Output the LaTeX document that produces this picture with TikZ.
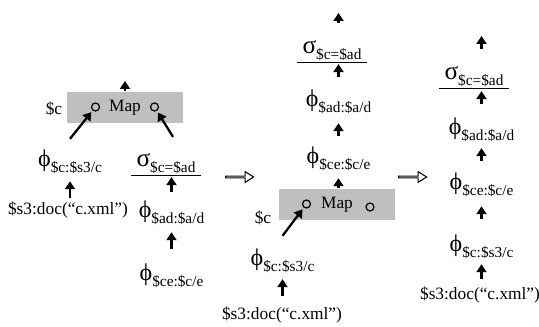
\documentclass[tikz,border=0pt]{standalone}
\usepackage{fontspec}
\setmainfont{Liberation Serif}
\usetikzlibrary{arrows.meta,shapes.arrows}
\newcommand{\lsub}[1]{\raisebox{-4.5pt}{\fontsize{11.5}{12}\selectfont #1}}
\newcommand{\phil}[1]{{\fontsize{18}{18}\selectfont ϕ}\lsub{#1}}
\newcommand{\sigl}[1]{{\fontsize{19}{19}\selectfont σ}\lsub{#1}}

\begin{document}
\begin{tikzpicture}[->,>={Triangle[width=7.5pt,length=6pt]}
	,line width=1.7pt
	,x=0.75pt,y=-0.75pt
	,font=\fontsize{13}{15}\selectfont]
  \tikzstyle{op}=[inner sep=0pt,text height=9pt,text depth=5.5pt,anchor=base]
  \tikzstyle{sel}=[inner ysep=0pt,inner xsep=3.5pt,text height=9pt,text depth=5.25pt,anchor=base]
  \tikzstyle{src}=[inner sep=0pt,text height=9pt,text depth=3pt,anchor=base]
  \tikzstyle{mapbox}=[fill=gray!50,minimum width=87pt,minimum height=23.25pt,inner sep=0pt]
  \tikzstyle{port}=[draw,circle,minimum size=6pt,inner sep=0pt,line width=0.9pt]
  \tikzstyle{rewrite}=[draw,single arrow,single arrow head extend=2.1pt
	,single arrow tip angle=64,minimum height=21pt,minimum width=8pt
	,inner sep=0pt,line width=0.8pt]

  \useasboundingbox (0,0) rectangle (539,327);

  % plan before
  \node[mapbox] (map1) at (125,107.5) {Map};
  \node[port] (in1a) at (95.5,107) {};
  \node[port] (in1b) at (154.5,107) {};
  \node (var1) at (54,109) {\$c};
  \coordinate (out1) at (125,81);
  \node[op] (phi1) at (70,167) {\phil{\$c:\$s3/c}};
  \node[sel] (sig1) at (166,167) {\sigl{\$c=\$ad}};
  \node[src] (doc1) at (68,215) {\$s3:doc(“c.xml”)};
  \node[op] (phiad1) at (171.5,218) {\phil{\$ad:\$a/d}};
  \node[op] (phice1) at (171.5,281) {\phil{\$ce:\$c/e}};

  % rewrite steps
  \node[rewrite] (rw1) at (239,177) {};
  \node[rewrite] (rw2) at (412,177) {};

  % plan after one step
  \node[sel] (sig2) at (332,54) {\sigl{\$c=\$ad}};
  \coordinate (out2) at (338.5,13);
  \node[op] (phiad2) at (338.5,107) {\phil{\$ad:\$a/d}};
  \node[op] (phice2) at (338.5,164) {\phil{\$ce:\$c/e}};
  \node[mapbox] (map2) at (337,205) {Map};
  \node[port] (in2a) at (306.5,204) {};
  \node[port] (in2b) at (370,207) {};
  \node (var2) at (263,218) {\$c};
  \node[op] (phi2) at (282.5,266) {\phil{\$c:\$s3/c}};
  \node[src] (doc2) at (282,320) {\$s3:doc(“c.xml”)};

  % plan after two steps
  \node[sel] (sig3) at (474,80) {\sigl{\$c=\$ad}};
  \coordinate (out3) at (481.5,36);
  \node[op] (phiad3) at (481.5,135) {\phil{\$ad:\$a/d}};
  \node[op] (phice3) at (481.5,190) {\phil{\$ce:\$c/e}};
  \node[op] (phi3) at (481.5,252) {\phil{\$c:\$s3/c}};
  \node[src] (doc3) at (480,300) {\$s3:doc(“c.xml”)};

  % selection bars
  \draw[-,line width=0.8pt] (sig1.south west) -- (sig1.south east);
  \draw[-,line width=0.8pt] (sig2.south west) -- (sig2.south east);
  \draw[-,line width=0.8pt] (sig3.south west) -- (sig3.south east);

  % before
  \path (map1.north) edge (out1);
  \path ([yshift=11.25pt]phi1.north) edge [shorten >=1.5pt] (in1a);
  \path ([xshift=5.25pt,yshift=12.75pt]sig1.north) edge [shorten >=1.5pt] (in1b);
  \path (doc1.north -| phi1) edge [shorten <=3pt,shorten >=4.3pt] (phi1);
  \path (phiad1) edge [shorten <=9.75pt,shorten >=1.5pt] (phiad1 |- sig1.south);
  \path (phice1) edge [shorten <=14.25pt,shorten >=4.3pt] (phiad1);
  % after one step
  \path (phiad2 |- sig2.north) edge [shorten <=13.5pt] (out2);
  \path (phiad2) edge [shorten <=12.75pt,shorten >=1.5pt] (phiad2 |- sig2.south);
  \path (phice2) edge [shorten <=11.25pt,shorten >=5.8pt] (phiad2);
  \path (map2.north -| phice2) edge [shorten >=4.3pt] (phice2);
  \path ([yshift=12.75pt]phi2.north) edge [shorten >=1.5pt] (in2a);
  \path (doc2.north -| phi2) edge [shorten <=8.25pt,shorten >=3.5pt] (phi2);
  % after two steps
  \path (phiad3 |- sig3.north) edge [shorten <=13.5pt] (out3);
  \path (phiad3) edge [shorten <=13.5pt,shorten >=2.25pt] (phiad3 |- sig3.south);
  \path (phice3) edge [shorten <=12pt,shorten >=3.5pt] (phiad3);
  \path (phi3) edge [shorten <=15pt,shorten >=5.8pt] (phice3);
  \path (doc3.north -| phi3) edge [shorten <=6pt,shorten >=2.8pt] (phi3);

\end{tikzpicture}
\end{document}
